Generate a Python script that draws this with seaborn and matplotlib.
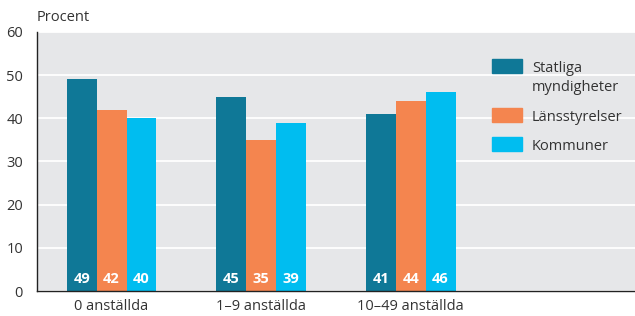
import pandas as pd
import numpy as np
import matplotlib
matplotlib.use('Agg')
import matplotlib.pyplot as plt
import seaborn as sns

# Data
categories = ['0 anställda', '1–9 anställda', '10–49 anställda']
series = ['Statliga\nmyndigheter', 'Länsstyrelser', 'Kommuner']
statliga = [49, 45, 41]
lansstyrelser = [42, 35, 44]
kommuner = [40, 39, 46]
colors = ['#0f7897', '#f4854f', '#00bdf0']

rows = []
for name, vals in zip(series, [statliga, lansstyrelser, kommuner]):
    for cat, v in zip(categories, vals):
        rows.append({'kategori': cat, 'grupp': name, 'procent': v})
df = pd.DataFrame(rows)

sns.set_theme(style='white')
plt.rcParams['font.family'] = ['Open Sans', 'DejaVu Sans']
text_color = '#333333'

fig = plt.figure(figsize=(6.35, 3.16), dpi=100)
ax = fig.add_axes([0.058, 0.079, 0.942, 0.82])
ax.set_facecolor('#e6e7e9')

sns.barplot(data=df, x='kategori', y='procent', hue='grupp', order=categories,
            hue_order=series, palette=colors, width=0.6, gap=0, saturation=1,
            linewidth=0, legend=False, ax=ax)

ax.set_xlim(-0.5, 3.5)
ax.set_ylim(0, 60)
ax.set_yticks(range(0, 61, 10))
ax.yaxis.grid(True, color='white', linewidth=1.3)
ax.set_axisbelow(True)
ax.tick_params(axis='both', length=0, labelsize=10.5, labelcolor=text_color)
ax.tick_params(axis='y', pad=10)
ax.tick_params(axis='x', pad=6)
ax.set_xlabel('')
ax.set_ylabel('')
for s in ['top', 'right']:
    ax.spines[s].set_visible(False)
for s in ['left', 'bottom']:
    ax.spines[s].set_color('#222222')
    ax.spines[s].set_linewidth(1.0)

# value labels at bar foot
for cont in ax.containers:
    for p in cont:
        ax.text(p.get_x() + p.get_width() / 2, 1.2, f'{p.get_height():.0f}',
                ha='center', va='bottom', color='white', fontsize=10.5,
                fontweight='bold')

ax.text(0.0, 1.025, 'Procent', transform=ax.transAxes, ha='left', va='bottom',
        fontsize=10.5, color=text_color)

# legend drawn by hand so the swatch sits on the first line of the label
leg_y = [0.842, 0.6525, 0.5405]
for name, c, y in zip(series, colors, leg_y):
    ax.add_patch(plt.Rectangle((0.761, y), 0.05, 0.054, transform=ax.transAxes,
                               color=c, clip_on=False))
    ax.text(0.828, y + 0.054 - 0.008, name, transform=ax.transAxes, ha='left',
            va='top', fontsize=10.5, color=text_color, linespacing=1.4)

fig.savefig('out.png', dpi=100)
